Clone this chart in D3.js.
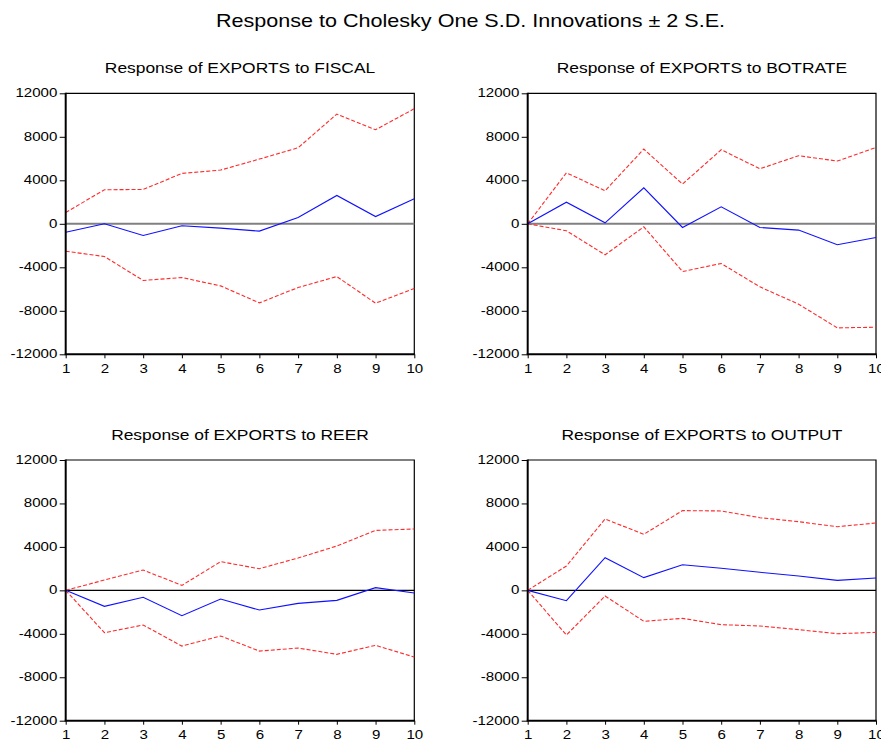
<!DOCTYPE html>
<html>
<head>
<meta charset="utf-8">
<script src="https://cdn.jsdelivr.net/npm/d3@7"></script>
<style>
  html, body { margin: 0; padding: 0; background: #fff; }
  svg { display: block; }
  text { font-family: "Liberation Sans", Arial, sans-serif; fill: #000; }
</style>
</head>
<body>
<script>
// Impulse-response periods and axis ticks
const periods = [1, 2, 3, 4, 5, 6, 7, 8, 9, 10];
const yTicks = [-12000, -8000, -4000, 0, 4000, 8000, 12000];

// Response of EXPORTS to FISCAL
const fiscalResp  = [-770, 0, -1070, -180, -400, -670, 580, 2610, 670, 2300];
const fiscalUpper = [1040, 3130, 3160, 4630, 4940, 5950, 6990, 10090, 8650, 10580];
const fiscalLower = [-2520, -3010, -5210, -4940, -5710, -7270, -5860, -4850, -7300, -5950];

// Response of EXPORTS to BOTRATE
const botrateResp  = [0, 1990, 90, 3310, -340, 1560, -340, -580, -1930, -1260];
const botrateUpper = [0, 4690, 3040, 6870, 3650, 6810, 5060, 6260, 5770, 7020];
const botrateLower = [0, -640, -2850, -280, -4390, -3650, -5800, -7390, -9570, -9510];

// Response of EXPORTS to REER
const reerResp  = [0, -1470, -640, -2330, -800, -1810, -1200, -920, 250, -250];
const reerUpper = [0, 950, 1870, 460, 2640, 1990, 2980, 4080, 5520, 5650];
const reerLower = [0, -3900, -3190, -5130, -4200, -5590, -5310, -5890, -5060, -6140];

// Response of EXPORTS to OUTPUT
const outputResp  = [0, -950, 3010, 1170, 2360, 2030, 1660, 1320, 920, 1130];
const outputUpper = [0, 2240, 6570, 5160, 7340, 7310, 6690, 6320, 5860, 6200];
const outputLower = [0, -4110, -520, -2850, -2580, -3160, -3280, -3620, -3990, -3870];

const mainTitle = "Response to Cholesky One S.D. Innovations \u00B1 2 S.E.";

const panels = [
  { title: "Response of EXPORTS to FISCAL",  resp: fiscalResp,  upper: fiscalUpper,  lower: fiscalLower,
    box: { l: 65.7, r: 414.3, t: 93.3, b: 354.3 }, zero: { color: "#808080", width: 2 } },
  { title: "Response of EXPORTS to BOTRATE", resp: botrateResp, upper: botrateUpper, lower: botrateLower,
    box: { l: 527.7, r: 876, t: 93.3, b: 354.3 }, zero: { color: "#808080", width: 2 } },
  { title: "Response of EXPORTS to REER",    resp: reerResp,    upper: reerUpper,    lower: reerLower,
    box: { l: 65.7, r: 414.3, t: 460, b: 720.7 }, zero: { color: "#000", width: 1.2 } },
  { title: "Response of EXPORTS to OUTPUT",  resp: outputResp,  upper: outputUpper,  lower: outputLower,
    box: { l: 527.7, r: 876, t: 460, b: 720.7 }, zero: { color: "#000", width: 1.2 } }
];

const W = 881, H = 744;
const SX = 1.16; // horizontal stretch of the lettering
const plainNum = d => String(d); // hyphen-minus for negatives

const svg = d3.select("body").append("svg")
  .attr("width", W).attr("height", H)
  .attr("viewBox", `0 0 ${W} ${H}`);

svg.append("rect").attr("width", W).attr("height", H).attr("fill", "#fff");

function stretchedText(sel, x, y, str, size) {
  return sel.append("text")
    .attr("transform", `translate(${x},${y}) scale(${SX},1)`)
    .attr("text-anchor", "middle")
    .attr("font-size", size)
    .text(str);
}

stretchedText(svg, 470.5, 26.7, mainTitle, 18.6);

panels.forEach(p => {
  const { l, r, t, b } = p.box;
  const x = d3.scaleLinear().domain([1, 10]).range([l, r]);
  const y = d3.scaleLinear().domain([-12000, 12000]).range([b, t]);
  const g = svg.append("g");

  stretchedText(g, (l + r) / 2, t - 20, p.title, 15);

  // frame: thin top and right edges
  g.append("path")
    .attr("d", `M${l},${t}H${r}V${b}`)
    .attr("fill", "none").attr("stroke", "#000").attr("stroke-width", 1.2);

  // zero reference line
  g.append("line")
    .attr("x1", l).attr("x2", r)
    .attr("y1", y(0)).attr("y2", y(0))
    .attr("stroke", p.zero.color).attr("stroke-width", p.zero.width);

  const line = d3.line().x((d, i) => x(periods[i])).y(d => y(d));

  g.append("path").datum(p.upper).attr("d", line)
    .attr("fill", "none").attr("stroke", "#ff2a2a").attr("stroke-width", 1.1)
    .attr("stroke-dasharray", "4,2");
  g.append("path").datum(p.lower).attr("d", line)
    .attr("fill", "none").attr("stroke", "#ff2a2a").attr("stroke-width", 1.1)
    .attr("stroke-dasharray", "4,2");
  g.append("path").datum(p.resp).attr("d", line)
    .attr("fill", "none").attr("stroke", "#1010ff").attr("stroke-width", 1.1);

  // left axis
  const ya = g.append("g").attr("transform", `translate(${l},0)`)
    .call(d3.axisLeft(y).tickValues(yTicks).tickFormat(plainNum).tickSize(6).tickPadding(2));
  ya.select(".domain").attr("stroke-width", 2).attr("d", `M0,${t - 0.5}V${b}`);
  ya.selectAll(".tick line").attr("stroke-width", 1);
  ya.selectAll(".tick text")
    .attr("font-size", 13).attr("font-family", "Liberation Sans, Arial, sans-serif")
    .attr("x", -8.4 / SX).attr("dy", "0.26em")
    .attr("transform", `scale(${SX},1)`);

  // bottom axis
  const xa = g.append("g").attr("transform", `translate(0,${b})`)
    .call(d3.axisBottom(x).tickValues(periods).tickFormat(plainNum).tickSize(4).tickPadding(5.5));
  xa.select(".domain").attr("stroke-width", 2).attr("d", `M${l - 1},0H${r + 0.6}`);
  xa.selectAll(".tick line").attr("stroke-width", 1);
  xa.selectAll(".tick text")
    .attr("font-size", 13).attr("font-family", "Liberation Sans, Arial, sans-serif")
    .attr("transform", `scale(${SX},1)`);
});
</script>
</body>
</html>
